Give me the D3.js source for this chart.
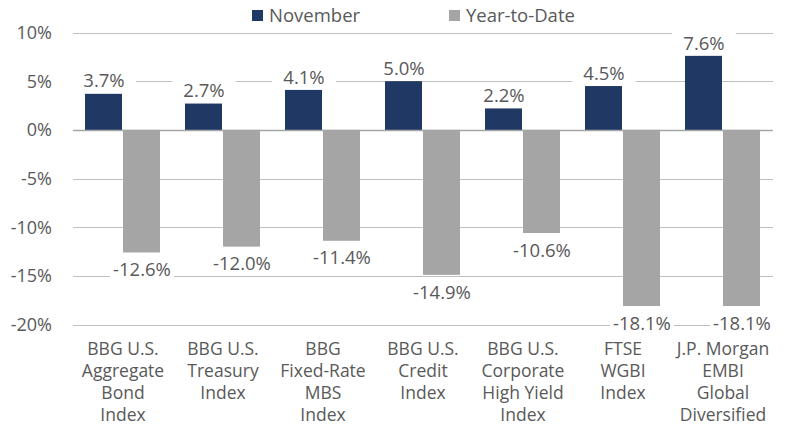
<!DOCTYPE html>
<html>
<head>
<meta charset="utf-8">
<script src="https://cdn.jsdelivr.net/npm/d3@7"></script>
<style>
  body { margin: 0; background: #fff; }
  text { font-family: "Open Sans", sans-serif; fill: #595959; }
</style>
</head>
<body>
<svg id="chart" width="787" height="425"></svg>
<script>
// data
var categories = [
    [ "BBG U.S.", "Aggregate", "Bond", "Index" ],
    [ "BBG U.S.", "Treasury", "Index" ],
    [ "BBG", "Fixed-Rate", "MBS", "Index" ],
    [ "BBG U.S.", "Credit", "Index" ],
    [ "BBG U.S.", "Corporate", "High Yield", "Index" ],
    [ "FTSE", "WGBI", "Index" ],
    [ "J.P. Morgan", "EMBI", "Global", "Diversified" ]
];
var november = [ 3.7, 2.7, 4.1, 5.0, 2.2, 4.5, 7.6 ];
var yearToDate = [ -12.6, -12.0, -11.4, -14.9, -10.6, -18.1, -18.1 ];
var seriesNames = [ "November", "Year-to-Date" ];
var yTicks = [ 10, 5, 0, -5, -10, -15, -20 ];

var colors = [ "#1f3864", "#a5a5a5" ];

var svg = d3.select( "#chart" );
var plotLeft = 73, plotRight = 773, plotTop = 32.5, plotBottom = 324.5;

var x0 = d3.scaleBand()
    .domain( d3.range( categories.length ) )
    .range( [ plotLeft, plotRight ] )
    .paddingInner( 0.24 )
    .paddingOuter( 0.12 );
var x1 = d3.scaleBand()
    .domain( [ 0, 1 ] )
    .range( [ 0, x0.bandwidth() ] );
var y = d3.scaleLinear()
    .domain( [ -20, 10 ] )
    .range( [ plotBottom, plotTop ] );

// gridlines
svg.append( "g" )
    .selectAll( "line" )
    .data( yTicks )
    .join( "line" )
    .attr( "x1", plotLeft )
    .attr( "x2", plotRight )
    .attr( "y1", function( d ) { return Math.round( y( d ) ) + 0.5; } )
    .attr( "y2", function( d ) { return Math.round( y( d ) ) + 0.5; } )
    .attr( "stroke", function( d ) { return d === 0 ? "#a6a6a6" : "#bfbfbf"; } )
    .attr( "stroke-width", function( d ) { return d === 0 ? 1.5 : 1; } );

// y tick labels
svg.append( "g" )
    .selectAll( "text" )
    .data( yTicks )
    .join( "text" )
    .attr( "x", 52 )
    .attr( "y", function( d ) { return y( d ); } )
    .attr( "dy", "0.36em" )
    .attr( "text-anchor", "end" )
    .style( "font-size", "18px" )
    .text( function( d ) { return d + "%"; } );

var rows = categories.map( function( c, i ) {
    return { i: i, values: [ november[ i ], yearToDate[ i ] ] };
} );

var groups = svg.append( "g" )
    .selectAll( "g" )
    .data( rows )
    .join( "g" )
    .attr( "transform", function( d ) { return "translate(" + x0( d.i ) + ",0)"; } );

groups.selectAll( "rect" )
    .data( function( d ) { return d.values.map( function( v, s ) { return { s: s, v: v }; } ); } )
    .join( "rect" )
    .attr( "x", function( d ) { return x1( d.s ); } )
    .attr( "width", x1.bandwidth() - 1 )
    .attr( "y", function( d ) { return y( Math.max( 0, d.v ) ); } )
    .attr( "height", function( d ) { return Math.abs( y( d.v ) - y( 0 ) ); } )
    .attr( "fill", function( d ) { return colors[ d.s ]; } );

// value labels with white backing
var labels = groups.selectAll( "g.lbl" )
    .data( function( d ) { return d.values.map( function( v, s ) { return { s: s, v: v }; } ); } )
    .join( "g" )
    .attr( "class", "lbl" )
    .attr( "transform", function( d ) {
        var cx = x1( d.s ) + x1.bandwidth() / 2;
        var cy = d.v >= 0 ? y( d.v ) - 13 : y( d.v ) + 17;
        return "translate(" + cx + "," + cy + ")";
    } );
labels.append( "rect" )
    .attr( "x", -32 )
    .attr( "y", -11 )
    .attr( "width", 64 )
    .attr( "height", 22 )
    .attr( "fill", "#fff" );
labels.append( "text" )
    .attr( "text-anchor", "middle" )
    .attr( "dy", "0.36em" )
    .style( "font-size", "18.5px" )
    .text( function( d ) { return d.v.toFixed( 1 ) + "%"; } );

// category labels
var cats = svg.append( "g" )
    .selectAll( "text" )
    .data( categories )
    .join( "text" )
    .attr( "x", function( d, i ) { return x0( i ) + x0.bandwidth() / 2; } )
    .attr( "y", 349 )
    .attr( "text-anchor", "middle" )
    .style( "font-size", "17.5px" );
cats.selectAll( "tspan" )
    .data( function( d ) { return d; } )
    .join( "tspan" )
    .attr( "x", function() { return this.parentNode.getAttribute( "x" ); } )
    .attr( "dy", function( d, i ) { return i === 0 ? "0.36em" : "21.8px"; } )
    .text( function( d ) { return d; } );

// legend
var legendX = [ 252, 449 ];
var legend = svg.append( "g" )
    .selectAll( "g" )
    .data( seriesNames )
    .join( "g" )
    .attr( "transform", function( d, i ) { return "translate(" + legendX[ i ] + ",15.5)"; } );
legend.append( "rect" )
    .attr( "x", 0 )
    .attr( "y", -5.5 )
    .attr( "width", 11 )
    .attr( "height", 11 )
    .attr( "fill", function( d, i ) { return colors[ i ]; } );
legend.append( "text" )
    .attr( "x", 17 )
    .attr( "dy", "0.36em" )
    .style( "font-size", "18.5px" )
    .text( function( d ) { return d; } );
</script>
</body>
</html>
